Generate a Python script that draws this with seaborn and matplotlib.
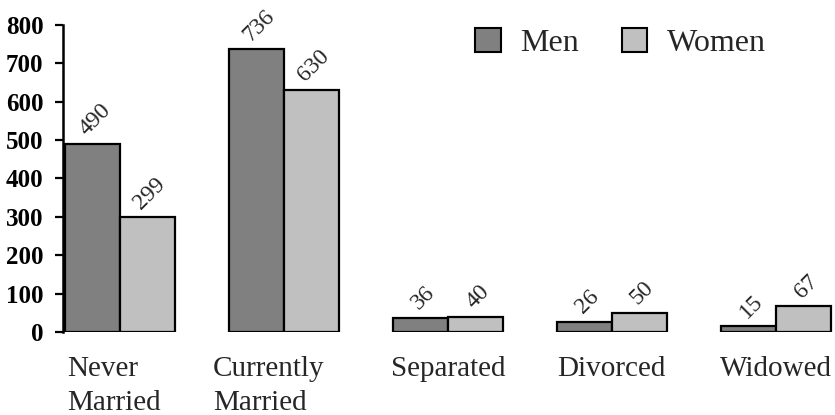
import matplotlib
matplotlib.use("Agg")
import matplotlib.pyplot as plt
import matplotlib.transforms as mtransforms
import seaborn as sns
import pandas as pd
from matplotlib.patches import Patch

categories = ["Never\nMarried", "Currently\nMarried", "Separated", "Divorced", "Widowed"]
men = [490, 736, 36, 26, 15]
women = [299, 630, 40, 50, 67]
yticks = [0, 100, 200, 300, 400, 500, 600, 700, 800]

df = pd.DataFrame({
    "Status": categories * 2,
    "Sex": ["Men"] * len(categories) + ["Women"] * len(categories),
    "Count": men + women,
})

sns.set_style("white")
FAM = ["Liberation Serif", "DejaVu Serif"]
plt.rcParams["font.family"] = FAM

fig = plt.figure(figsize=(8.35, 4.15), dpi=100)
ax = fig.add_axes([0.0755, 0.2, 0.9245, 0.74])

palette = {"Men": "#808080", "Women": "#c0c0c0"}
sns.barplot(data=df, x="Status", y="Count", hue="Sex", order=categories,
            hue_order=["Men", "Women"], palette=palette, width=0.67, gap=0,
            edgecolor="black", linewidth=1.6, saturation=1, ax=ax, legend=False)

for cont in ax.containers:
    for bar in cont:
        h = bar.get_height()
        ax.annotate(f"{int(round(h))}", (bar.get_x() + bar.get_width() / 2, h),
                    xytext=(2, 3), textcoords="offset points",
                    ha="center", va="bottom", rotation=45, fontsize=17, family=FAM)

ax.set_ylim(0, 800)
ax.set_yticks(yticks)
ax.set_yticklabels([str(t) for t in yticks], fontsize=18, fontweight="bold", family=FAM)
ax.set_xlim(-0.345, 4.36)
ax.set_xlabel("")
ax.set_ylabel("")
ax.set_xticks(range(len(categories)))
ax.set_xticklabels(categories, fontsize=21, family=FAM, multialignment="left",
                   linespacing=1.4)
ax.tick_params(axis="x", length=0, pad=17)
ax.tick_params(axis="y", direction="out", length=6, width=1.6, left=True, pad=8, colors="black")

# wrapped two-line labels sit a bit left of the group centre
for lbl in ax.get_xticklabels():
    txt = lbl.get_text()
    if "\n" in txt:
        shift = -6 if txt.startswith("Never") else -15
        lbl.set_transform(lbl.get_transform() +
                          mtransforms.ScaledTranslation(shift / 100, 0, fig.dpi_scale_trans))

for s in ["top", "right", "bottom"]:
    ax.spines[s].set_visible(False)
ax.spines["left"].set_linewidth(1.8)
ax.spines["left"].set_color("black")

handles = [Patch(facecolor=palette["Men"], edgecolor="black", linewidth=1.5, label="Men"),
           Patch(facecolor=palette["Women"], edgecolor="black", linewidth=1.5, label="Women")]
leg = fig.legend(handles=handles, loc="center", bbox_to_anchor=(0.743, 0.897), ncol=2,
                 frameon=False, prop={"family": FAM, "size": 23}, handlelength=0.8,
                 handleheight=0.8, columnspacing=1.35, handletextpad=0.6,
                 bbox_transform=fig.transFigure)

fig.savefig("out.png", dpi=100)
